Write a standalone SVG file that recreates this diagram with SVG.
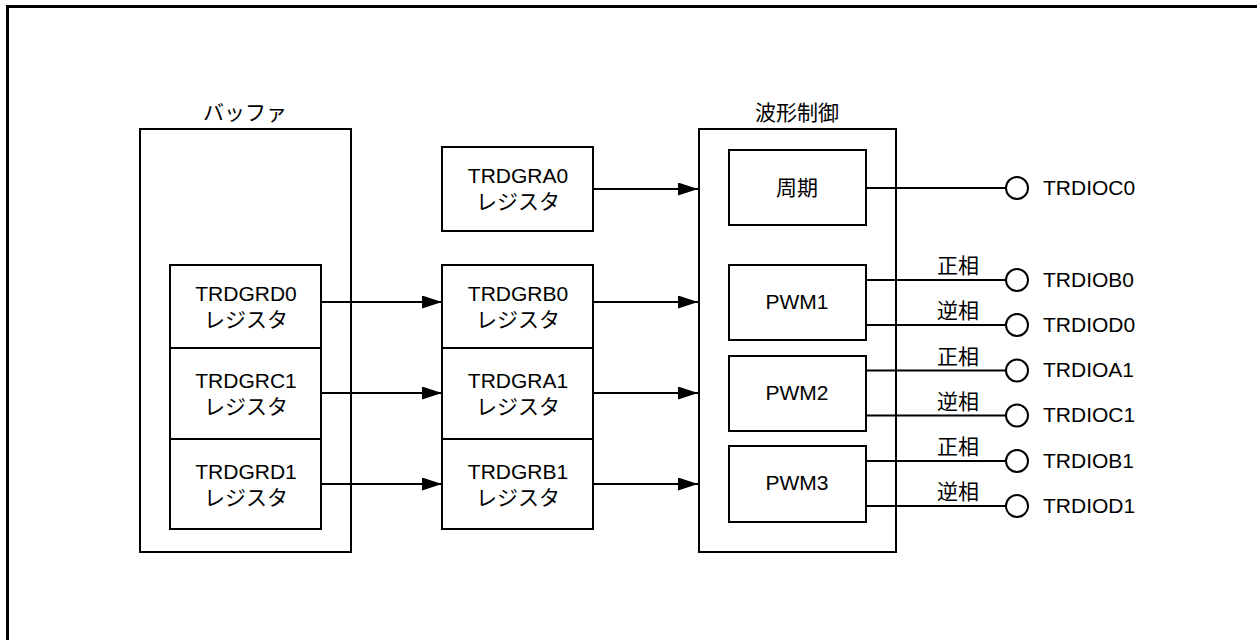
<svg xmlns="http://www.w3.org/2000/svg" width="1257" height="640" viewBox="0 0 1257 640">
<style>
.bx{fill:#fff;stroke:#000;stroke-width:2}
.ln{fill:none;stroke:#000;stroke-width:2}
.pin{fill:#fff;stroke:#000;stroke-width:2}
text{font-family:"Liberation Sans","Noto Sans CJK JP",sans-serif;font-size:21px;fill:#000}
.c{text-anchor:middle}
</style>
<defs>
<marker id="ah" markerUnits="userSpaceOnUse" markerWidth="22" markerHeight="16" refX="20" refY="6.5" orient="auto">
<path d="M0,0 L20,6.5 L0,13 z" fill="#000"/>
</marker>
</defs>
<rect width="1257" height="640" fill="#fff"/>
<path d="M7.5,640 V6.5 H1257" fill="none" stroke="#000" stroke-width="3"/>

<g id="buffer">
<rect class="bx" x="140" y="129" width="211" height="423"/>
<text class="c" x="245" y="120">バッファ</text>
</g>
<g id="trdgrd0">
<rect class="bx" x="170" y="265" width="151" height="83"/>
<text class="c" x="246" y="301">TRDGRD0</text>
<text class="c" x="246" y="327">レジスタ</text>
</g>
<g id="trdgrc1">
<rect class="bx" x="170" y="348" width="151" height="91"/>
<text class="c" x="246" y="388">TRDGRC1</text>
<text class="c" x="246" y="414">レジスタ</text>
</g>
<g id="trdgrd1">
<rect class="bx" x="170" y="439" width="151" height="90"/>
<text class="c" x="246" y="479">TRDGRD1</text>
<text class="c" x="246" y="505">レジスタ</text>
</g>

<g id="trdgra0">
<rect class="bx" x="442" y="147" width="151" height="84"/>
<text class="c" x="518" y="183">TRDGRA0</text>
<text class="c" x="518" y="209">レジスタ</text>
</g>
<g id="trdgrb0">
<rect class="bx" x="442" y="265" width="151" height="83"/>
<text class="c" x="518" y="301">TRDGRB0</text>
<text class="c" x="518" y="327">レジスタ</text>
</g>
<g id="trdgra1">
<rect class="bx" x="442" y="348" width="151" height="91"/>
<text class="c" x="518" y="388">TRDGRA1</text>
<text class="c" x="518" y="414">レジスタ</text>
</g>
<g id="trdgrb1">
<rect class="bx" x="442" y="439" width="151" height="90"/>
<text class="c" x="518" y="479">TRDGRB1</text>
<text class="c" x="518" y="505">レジスタ</text>
</g>

<g id="waveform">
<rect class="bx" x="699" y="129" width="197" height="423"/>
<text class="c" x="797" y="120">波形制御</text>
</g>
<g id="period">
<rect class="bx" x="729" y="150" width="137" height="75"/>
<text class="c" x="797" y="195">周期</text>
</g>
<g id="pwm1">
<rect class="bx" x="729" y="265" width="137" height="75"/>
<text class="c" x="797" y="309">PWM1</text>
</g>
<g id="pwm2">
<rect class="bx" x="729" y="356" width="137" height="75"/>
<text class="c" x="797" y="400">PWM2</text>
</g>
<g id="pwm3">
<rect class="bx" x="729" y="446" width="137" height="76"/>
<text class="c" x="797" y="490">PWM3</text>
</g>

<g id="connectors">
<line class="ln" x1="321" y1="302" x2="442" y2="302" marker-end="url(#ah)"/>
<line class="ln" x1="321" y1="393" x2="442" y2="393" marker-end="url(#ah)"/>
<line class="ln" x1="321" y1="484" x2="442" y2="484" marker-end="url(#ah)"/>
<line class="ln" x1="593" y1="189" x2="698" y2="189" marker-end="url(#ah)"/>
<line class="ln" x1="593" y1="302" x2="698" y2="302" marker-end="url(#ah)"/>
<line class="ln" x1="593" y1="393" x2="698" y2="393" marker-end="url(#ah)"/>
<line class="ln" x1="593" y1="484" x2="698" y2="484" marker-end="url(#ah)"/>
<line class="ln" x1="866" y1="188" x2="1006" y2="188"/>
<line class="ln" x1="866" y1="280" x2="1006" y2="280"/>
<line class="ln" x1="866" y1="325" x2="1006" y2="325"/>
<line class="ln" x1="866" y1="370.5" x2="1006" y2="370.5"/>
<line class="ln" x1="866" y1="415.5" x2="1006" y2="415.5"/>
<line class="ln" x1="866" y1="461" x2="1006" y2="461"/>
<line class="ln" x1="866" y1="506" x2="1006" y2="506"/>
<text class="c" x="958" y="273">正相</text>
<text class="c" x="958" y="318">逆相</text>
<text class="c" x="958" y="363.5">正相</text>
<text class="c" x="958" y="408.5">逆相</text>
<text class="c" x="958" y="454">正相</text>
<text class="c" x="958" y="499">逆相</text>
</g>

<g id="pin-trdioc0"><circle class="pin" cx="1017" cy="188" r="11"/><text x="1043" y="194.5">TRDIOC0</text></g>
<g id="pin-trdiob0"><circle class="pin" cx="1017" cy="280" r="11"/><text x="1043" y="286.5">TRDIOB0</text></g>
<g id="pin-trdiod0"><circle class="pin" cx="1017" cy="325" r="11"/><text x="1043" y="331.5">TRDIOD0</text></g>
<g id="pin-trdioa1"><circle class="pin" cx="1017" cy="370.5" r="11"/><text x="1043" y="377">TRDIOA1</text></g>
<g id="pin-trdioc1"><circle class="pin" cx="1017" cy="415.5" r="11"/><text x="1043" y="422">TRDIOC1</text></g>
<g id="pin-trdiob1"><circle class="pin" cx="1017" cy="461" r="11"/><text x="1043" y="467.5">TRDIOB1</text></g>
<g id="pin-trdiod1"><circle class="pin" cx="1017" cy="506" r="11"/><text x="1043" y="512.5">TRDIOD1</text></g>
</svg>
